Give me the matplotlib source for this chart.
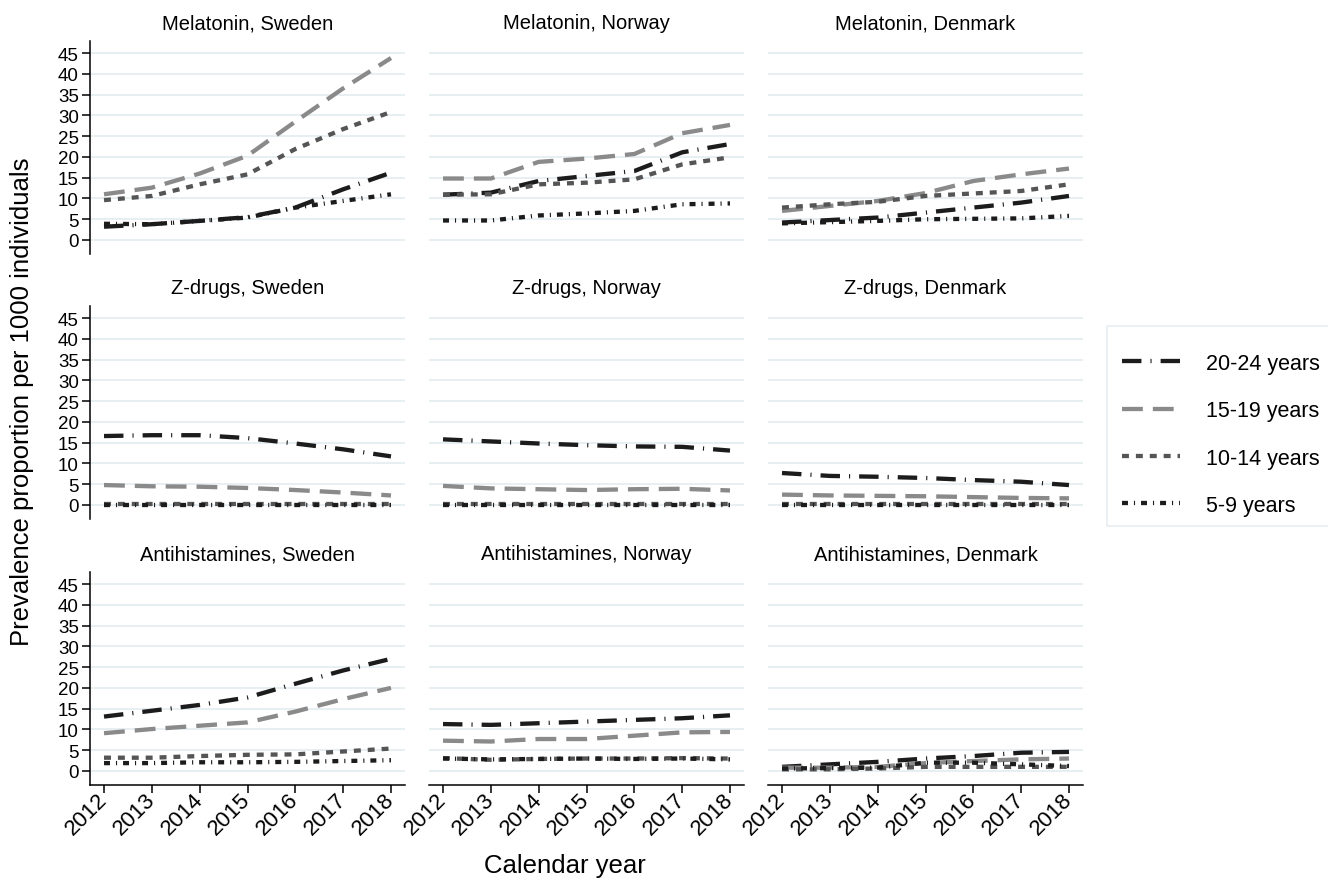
import numpy as np
import matplotlib
matplotlib.use("Agg")
import matplotlib.pyplot as plt
from matplotlib.patches import Rectangle

plt.rcParams['font.family'] = ['Liberation Sans', 'DejaVu Sans']
plt.rcParams['lines.scale_dashes'] = False

years = [2012, 2013, 2014, 2015, 2016, 2017, 2018]
age_groups = ['20-24 years', '15-19 years', '10-14 years', '5-9 years']
countries = ['Sweden', 'Norway', 'Denmark']
drugs = ['Melatonin', 'Z-drugs', 'Antihistamines']

# rows: 20-24, 15-19, 10-14, 5-9
melatonin_sweden = [[3.2, 3.8, 4.6, 5.5, 7.8, 12.2, 16.2],
                    [11.0, 12.6, 16.0, 20.3, 28.5, 36.5, 43.8],
                    [9.6, 10.6, 13.4, 15.8, 21.9, 26.7, 30.8],
                    [3.9, 3.8, 4.6, 5.4, 7.8, 9.4, 11.0]]
melatonin_norway = [[10.9, 11.4, 14.2, 15.4, 16.6, 21.1, 23.1],
                    [14.8, 14.8, 18.8, 19.6, 20.7, 25.7, 27.7],
                    [10.9, 11.0, 13.4, 13.8, 14.6, 18.2, 19.9],
                    [4.7, 4.7, 5.9, 6.4, 7.0, 8.6, 8.8]]
melatonin_denmark = [[4.2, 4.8, 5.4, 6.6, 7.8, 9.0, 10.6],
                     [7.0, 8.2, 9.4, 11.3, 14.2, 15.8, 17.2],
                     [7.8, 8.6, 9.2, 10.6, 11.2, 11.8, 13.4],
                     [4.0, 4.3, 4.6, 5.0, 5.1, 5.2, 5.8]]

zdrugs_sweden = [[16.6, 16.8, 16.8, 16.1, 14.8, 13.4, 11.7],
                 [4.8, 4.5, 4.4, 4.1, 3.6, 3.0, 2.3],
                 [0.2, 0.2, 0.2, 0.2, 0.2, 0.2, 0.2],
                 [0.1, 0.1, 0.1, 0.1, 0.1, 0.1, 0.1]]
zdrugs_norway = [[15.8, 15.3, 14.8, 14.4, 14.1, 14.0, 13.1],
                 [4.6, 4.0, 3.8, 3.6, 3.8, 3.9, 3.5],
                 [0.2, 0.2, 0.2, 0.2, 0.2, 0.2, 0.2],
                 [0.1, 0.1, 0.1, 0.1, 0.1, 0.1, 0.1]]
zdrugs_denmark = [[7.7, 7.0, 6.8, 6.5, 6.0, 5.6, 4.8],
                  [2.5, 2.3, 2.2, 2.1, 1.9, 1.7, 1.6],
                  [0.2, 0.2, 0.2, 0.2, 0.2, 0.2, 0.2],
                  [0.1, 0.1, 0.1, 0.1, 0.1, 0.1, 0.1]]

antihist_sweden = [[13.1, 14.5, 15.9, 17.7, 21.0, 24.2, 27.0],
                   [9.1, 10.1, 10.9, 11.7, 14.3, 17.3, 20.0],
                   [3.2, 3.2, 3.6, 3.9, 4.0, 4.7, 5.4],
                   [1.9, 1.9, 2.1, 2.1, 2.2, 2.4, 2.6]]
antihist_norway = [[11.3, 11.1, 11.5, 11.9, 12.3, 12.7, 13.4],
                   [7.3, 7.1, 7.7, 7.7, 8.5, 9.3, 9.4],
                   [3.1, 2.7, 2.9, 3.0, 3.0, 3.1, 3.0],
                   [3.0, 2.8, 2.9, 3.0, 2.9, 3.0, 2.8]]
antihist_denmark = [[1.0, 1.6, 2.2, 3.0, 3.6, 4.4, 4.6],
                    [0.8, 0.8, 1.0, 1.9, 2.4, 2.8, 3.0],
                    [0.4, 0.4, 0.6, 1.0, 1.0, 1.0, 1.0],
                    [0.6, 0.7, 0.8, 2.0, 2.0, 1.6, 1.2]]

panels = [[melatonin_sweden, melatonin_norway, melatonin_denmark],
          [zdrugs_sweden, zdrugs_norway, zdrugs_denmark],
          [antihist_sweden, antihist_norway, antihist_denmark]]

colors = ['#1c1c1c', '#8a8a8a', '#555555', '#1c1c1c']
dashes = [(0, (14, 6.5, 0.8, 6.5)),
          (0, (15, 7.2)),
          (0, (5, 5)),
          (0, (4.3, 4.3, 0.8, 4.3))]
grid_color = '#e6eef2'

W, H = 1328, 887
fig = plt.figure(figsize=(W / 100, H / 100), dpi=100)

col_left = [90, 429, 768]
col_w = 315
row_top = [42, 307, 573]
row_h = 213

for r in range(3):
    for c in range(3):
        ax = fig.add_axes([col_left[c] / W, 1 - (row_top[r] + row_h) / H,
                           col_w / W, row_h / H])
        data = panels[r][c]
        for k in range(4):
            ax.plot(years, data[k], color=colors[k], lw=3.1,
                    linestyle=dashes[k], label=age_groups[k],
                    solid_capstyle='butt', dash_capstyle='butt')
        ax.set_xlim(2011.707, 2018.293)
        ax.set_ylim(-3.37, 47.9)
        ax.set_yticks(np.arange(0, 50, 5))
        ax.set_xticks(years)
        ax.yaxis.grid(True, color=grid_color, lw=1.3)
        ax.set_axisbelow(True)
        for s in ['top', 'right']:
            ax.spines[s].set_visible(False)
        ax.spines['left'].set_visible(c == 0)
        ax.spines['bottom'].set_visible(r == 2)
        for s in ['left', 'bottom']:
            ax.spines[s].set_linewidth(1.1)
        ax.tick_params(axis='y', left=(c == 0), labelleft=(c == 0),
                       length=6, width=1.1, labelsize=13.5, pad=2)
        ax.tick_params(axis='x', bottom=(r == 2), labelbottom=(r == 2),
                       length=6, width=1.1, labelsize=16, pad=2)
        if r == 2:
            for lab in ax.get_xticklabels():
                lab.set_rotation(45)
                lab.set_ha('right')
                lab.set_va('center')
                lab.set_rotation_mode('anchor')
        ax.set_title(f'{drugs[r]}, {countries[c]}', fontsize=14.5, pad=9)
        if r == 0 and c == 0:
            handles, labels = ax.get_legend_handles_labels()

# legend frame drawn separately (taller than the legend's own padding)
fig.patches.append(Rectangle((1107 / W, 1 - 527 / H), 240 / W, 200 / H,
                             transform=fig.transFigure, facecolor='white',
                             edgecolor=grid_color, lw=1.2, zorder=0))
leg = fig.legend(handles, labels, loc='upper left',
                 bbox_to_anchor=(1122 / W, 1 - 354 / H), borderaxespad=0,
                 borderpad=0, fontsize=15.5, handlelength=2.7,
                 handletextpad=1.2, labelspacing=1.22, frameon=False)

fig.text(22 / W, 1 - 402 / H, 'Prevalence proportion per 1000 individuals',
         rotation=90, ha='center', va='center', fontsize=18.5)
fig.text(565 / W, 1 - 866 / H, 'Calendar year', ha='center', va='center',
         fontsize=18.5)

fig.savefig('out.png', dpi=100)
